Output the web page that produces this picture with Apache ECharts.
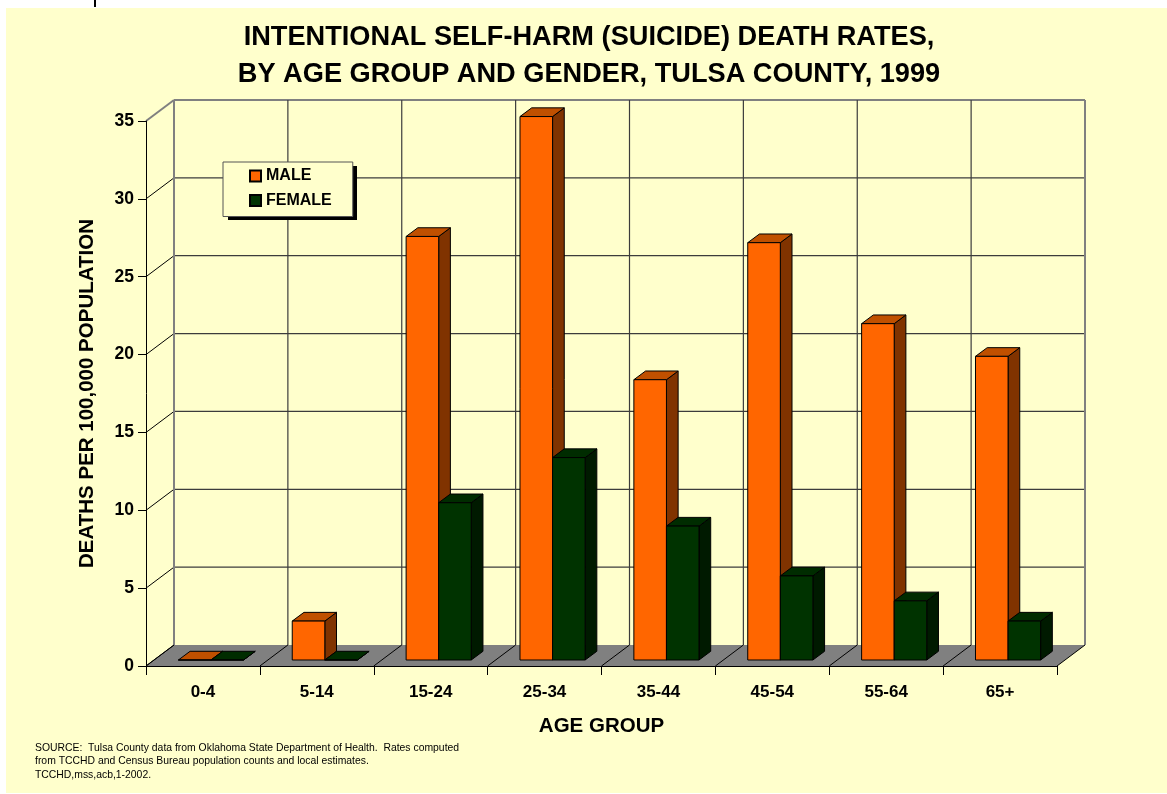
<!DOCTYPE html>
<html>
<head>
<meta charset="utf-8">
<script src="https://cdn.jsdelivr.net/npm/echarts@6/dist/echarts.min.js"></script>
<style>
  html, body { margin: 0; padding: 0; background: #ffffff; }
  #bg { position: absolute; left: 6px; top: 8px; width: 1161px; height: 785px; background: #FFFFCC; }
  #mark { position: absolute; left: 94px; top: 0; width: 2px; height: 7px; background: #000; }
  #chart { position: absolute; left: 0; top: 0; width: 1167px; height: 794px; }
</style>
</head>
<body>
<div id="bg"></div>
<div id="mark"></div>
<div id="chart"></div>
<script>
// ---- data ----
const categories = ['0-4', '5-14', '15-24', '25-34', '35-44', '45-54', '55-64', '65+'];
const maleRates = [0, 2.5, 27.2, 34.9, 18.0, 26.8, 21.6, 19.5];
const femaleRates = [0, 0, 10.1, 13.0, 8.6, 5.4, 3.8, 2.5];
const seriesNames = ['MALE', 'FEMALE'];
const yMin = 0, yMax = 35, yStep = 5;
const titleLines = ['INTENTIONAL SELF-HARM (SUICIDE) DEATH RATES,', 'BY AGE GROUP AND GENDER, TULSA COUNTY, 1999'];
const yAxisTitle = 'DEATHS PER 100,000 POPULATION';
const xAxisTitle = 'AGE GROUP';
const sourceLines = [
  'SOURCE:  Tulsa County data from Oklahoma State Department of Health.  Rates computed',
  'from TCCHD and Census Bureau population counts and local estimates.',
  'TCCHD,mss,acb,1-2002.'
];

// ---- style constants ----
const FONT = "'Liberation Sans', Arial, sans-serif";
const WALL_DX = 28, WALL_DY = 21;     // depth of the 3D box
const BAR_SHIFT_X = 8, BAR_SHIFT_Y = -6; // bars placed inside the box depth
const BAR_DX = 11.7, BAR_DY = 8.7;    // bar depth
const BAR_FRAC = 0.286;               // bar width as fraction of category
const colors = {
  MALE: { front: '#FF6600', top: '#C05000', side: '#803300' },
  FEMALE: { front: '#003300', top: '#002C00', side: '#001A00' }
};
const LEGEND_BOX = { left: 223, top: 162, width: 129, height: 54 };

function barRenderer(side, name) {
  const c = colors[name];
  return function (params, api) {
    const idx = api.value(0), val = api.value(1);
    const top = api.coord([idx, val]);
    const base = api.coord([idx, 0]);
    const cw = api.size([1, 0])[0];
    const bw = cw * BAR_FRAC;
    const x0 = top[0] + (side === 0 ? -bw : 0) + BAR_SHIFT_X;
    const x1 = x0 + bw;
    const yT = top[1] + BAR_SHIFT_Y;
    const yB = base[1] + BAR_SHIFT_Y;
    const stroke = { stroke: '#000', lineWidth: 1 };
    return {
      type: 'group',
      children: [
        { type: 'polygon', shape: { points: [[x1, yT], [x1 + BAR_DX, yT - BAR_DY], [x1 + BAR_DX, yB - BAR_DY], [x1, yB]] },
          style: Object.assign({ fill: c.side }, stroke) },
        { type: 'polygon', shape: { points: [[x0, yT], [x1, yT], [x1 + BAR_DX, yT - BAR_DY], [x0 + BAR_DX, yT - BAR_DY]] },
          style: Object.assign({ fill: c.top }, stroke) },
        { type: 'rect', shape: { x: x0, y: yT, width: bw, height: yB - yT },
          style: Object.assign({ fill: c.front }, stroke) }
      ]
    };
  };
}

function wallRenderer(params, api) {
  const cw = api.size([1, 0])[0];
  const xL = api.coord([0, 0])[0] - cw / 2;
  const xR = api.coord([categories.length - 1, 0])[0] + cw / 2;
  const y0 = api.coord([0, yMin])[1];
  const yTop = api.coord([0, yMax])[1];
  const children = [];
  const grey = '#808080', dark = '#3c3c3c';
  children.push({ type: 'rect', shape: { x: xL + WALL_DX, y: yTop - WALL_DY, width: xR - xL, height: y0 - yTop },
    style: { fill: '#FFFFCC' } });
  children.push({ type: 'polygon', shape: { points: [[xL, y0], [xR, y0], [xR + WALL_DX, y0 - WALL_DY], [xL + WALL_DX, y0 - WALL_DY]] },
    style: { fill: '#808080' } });
  for (let v = yMin; v <= yMax; v += yStep) {
    const y = api.coord([0, v])[1];
    const isEdge = v === yMax;
    if (v > yMin) {
      children.push({ type: 'line', shape: { x1: xL + WALL_DX, y1: y - WALL_DY, x2: xR + WALL_DX, y2: y - WALL_DY },
        style: { stroke: isEdge ? grey : dark, lineWidth: isEdge ? 2 : 1.2 } });
    }
    children.push({ type: 'line', shape: { x1: xL, y1: y, x2: xL + WALL_DX, y2: y - WALL_DY },
      style: { stroke: isEdge ? grey : '#000', lineWidth: isEdge ? 2 : 1 } });
  }
  for (let i = 0; i <= categories.length; i++) {
    const x = xL + i * cw;
    const isEdge = i === 0 || i === categories.length;
    children.push({ type: 'line', shape: { x1: x + WALL_DX, y1: yTop - WALL_DY, x2: x + WALL_DX, y2: y0 - WALL_DY },
      style: { stroke: isEdge ? grey : dark, lineWidth: isEdge ? 2 : 1.2 } });
    children.push({ type: 'line', shape: { x1: x, y1: y0, x2: x + WALL_DX, y2: y0 - WALL_DY },
      style: { stroke: '#000', lineWidth: 1 } });
  }
  return { type: 'group', children: children };
}

const chart = echarts.init(document.getElementById('chart'), null, { renderer: 'canvas' });
chart.setOption({
  backgroundColor: 'transparent',
  animation: false,
  title: [
    { text: titleLines.join('\n'), left: 584, top: 14, textAlign: 'center',
      textStyle: { fontFamily: FONT, fontSize: 27.2, fontWeight: 'bold', color: '#000', lineHeight: 37 } },
    { text: sourceLines.join('\n'), left: 30, top: 736,
      textStyle: { fontFamily: FONT, fontSize: 10.4, fontWeight: 'normal', color: '#000', lineHeight: 13.5 } }
  ],
  graphic: [
    { type: 'rect', z: 20, silent: true,
      shape: { x: LEGEND_BOX.left + 5, y: LEGEND_BOX.top + 4, width: LEGEND_BOX.width, height: LEGEND_BOX.height },
      style: { fill: '#000' } }
  ],
  legend: {
    data: seriesNames,
    z: 30,
    orient: 'vertical',
    left: LEGEND_BOX.left, top: LEGEND_BOX.top,
    padding: [6, 21, 8, 26],
    itemGap: 8.5,
    itemWidth: 11, itemHeight: 11,
    icon: 'rect',
    backgroundColor: '#FFFFCC',
    borderColor: '#555',
    borderWidth: 1,
    textStyle: { fontFamily: FONT, fontSize: 16, fontWeight: 'bold', color: '#000' }
  },
  grid: { left: 146, top: 121, width: 911, height: 545, containLabel: false },
  xAxis: {
    type: 'category', data: categories, z: 5,
    name: xAxisTitle, nameLocation: 'middle', nameGap: 50,
    nameTextStyle: { fontFamily: FONT, fontSize: 20.5, fontWeight: 'bold', color: '#000' },
    axisLine: { show: true, lineStyle: { color: '#000', width: 1 } },
    axisTick: { show: true, length: 9, lineStyle: { color: '#000' } },
    axisLabel: { margin: 18, fontFamily: FONT, fontSize: 17, fontWeight: 'bold', color: '#000' },
    splitLine: { show: false }
  },
  yAxis: {
    type: 'value', min: yMin, max: yMax, interval: yStep, z: 5,
    name: yAxisTitle, nameLocation: 'middle', nameGap: 48, nameRotate: 90,
    nameTextStyle: { fontFamily: FONT, fontSize: 20.5, fontWeight: 'bold', color: '#000' },
    axisLine: { show: true, lineStyle: { color: '#000', width: 1 } },
    axisTick: { show: true, length: 8, lineStyle: { color: '#000' } },
    axisLabel: { margin: 12, fontFamily: FONT, fontSize: 17.5, fontWeight: 'bold', color: '#000' },
    splitLine: { show: false }
  },
  tooltip: { show: false },
  series: [
    { name: 'walls', type: 'custom', z: 1, silent: true, data: [[0, 0]], renderItem: wallRenderer },
    { name: 'MALE', type: 'custom', z: 2, itemStyle: { color: colors.MALE.front, borderColor: '#000', borderWidth: 1 },
      data: maleRates.map((v, i) => [i, v]), renderItem: barRenderer(0, 'MALE') },
    { name: 'FEMALE', type: 'custom', z: 3, itemStyle: { color: colors.FEMALE.front, borderColor: '#000', borderWidth: 1 },
      data: femaleRates.map((v, i) => [i, v]), renderItem: barRenderer(1, 'FEMALE') }
  ]
});
</script>
</body>
</html>
